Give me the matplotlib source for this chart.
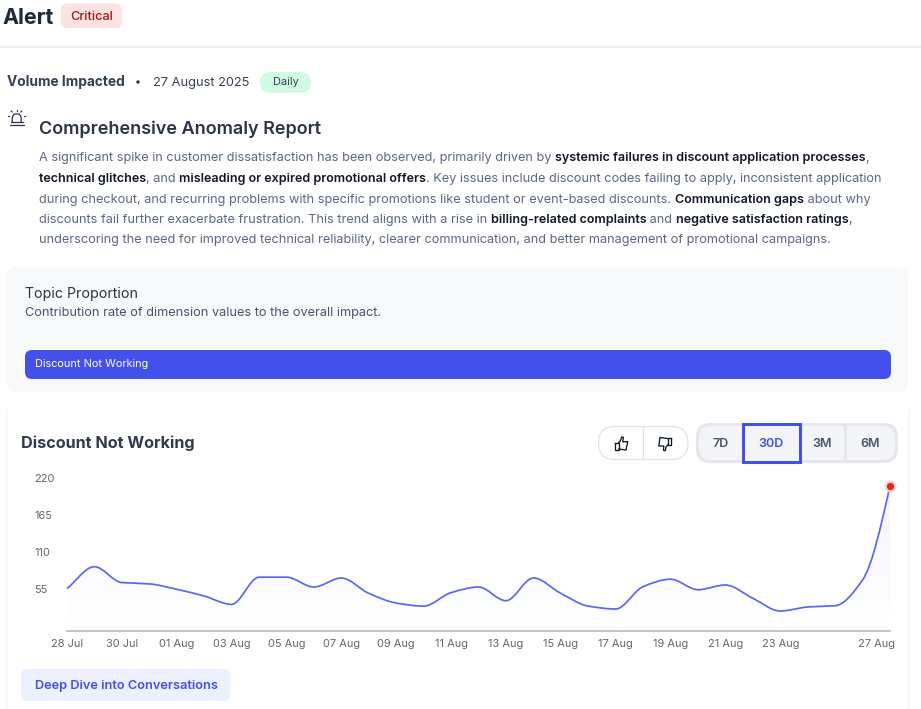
import numpy as np
import matplotlib
matplotlib.use("Agg")
import matplotlib.pyplot as plt
from matplotlib.patches import FancyBboxPatch, Rectangle, Circle, PathPatch
from matplotlib.path import Path
from matplotlib.transforms import ScaledTranslation

plt.rcParams['font.family'] = ['Inter', 'DejaVu Sans']

# ---------- data ----------
days = list(range(31))
volume = [63, 95.6, 72, 70, 62, 52, 39.6, 80, 80, 65.4, 78.8, 56, 41.6, 37, 57, 65.4,
          45, 78.8, 56, 37, 32.7, 66, 77, 61.4, 68.4, 48.6, 29.7, 35.7, 37.6, 75.8, 215.5]
x_tick_days = [0, 2, 4, 6, 8, 10, 12, 14, 16, 18, 20, 22, 24, 26, 30]
x_tick_labels = ['28 Jul', '30 Jul', '01 Aug', '03 Aug', '05 Aug', '07 Aug', '09 Aug', '11 Aug',
                 '13 Aug', '15 Aug', '17 Aug', '19 Aug', '21 Aug', '23 Aug', '27 Aug']
y_ticks = [55, 110, 165, 220]
paragraph = [
    [("A significant spike in customer dissatisfaction has been observed, primarily driven by ", 0),
     ("systemic failures in discount application processes", 1), (",", 0)],
    [("technical glitches", 1), (", and ", 0), ("misleading or expired promotional offers", 1),
     (". Key issues include discount codes failing to apply, inconsistent application", 0)],
    [("during checkout, and recurring problems with specific promotions like student or event-based discounts. ", 0),
     ("Communication gaps", 1), (" about why", 0)],
    [("discounts fail further exacerbate frustration. This trend aligns with a rise in ", 0),
     ("billing-related complaints", 1), (" and ", 0), ("negative satisfaction ratings", 1), (",", 0)],
    [("underscoring the need for improved technical reliability, clearer communication, and better management of promotional campaigns.", 0)],
]
range_labels = ['7D', '30D', '3M', '6M']

W, H = 921, 709
fig = plt.figure(figsize=(W / 100, H / 100), dpi=100, facecolor='white')
ui = fig.add_axes([0, 0, 1, 1], zorder=0)
ui.set_xlim(0, W)
ui.set_ylim(H, 0)
ui.axis('off')
PX = 0.72
INK = '#2b3444'
BLUE = '#4350ea'
renderer = fig.canvas.get_renderer()


def txt(x, y, s, px, color=INK, weight='normal', ha='left', va='center_baseline', **kw):
    return ui.text(x, y, s, fontsize=px * PX, color=color, fontweight=weight, ha=ha, va=va, **kw)


def box(x0, y0, x1, y1, r, fc, ec='none', lw=0, z=1):
    p = FancyBboxPatch((x0 + r, y0 + r), x1 - x0 - 2 * r, y1 - y0 - 2 * r,
                       boxstyle=f"round,pad={r},rounding_size={r}", fc=fc, ec=ec, lw=lw, zorder=z)
    ui.add_patch(p)
    return p


def strip(x, y, parts, sizes, colors, weights):
    for s, b in parts:
        t = txt(x, y, s, sizes[b], color=colors[b], weight=weights[b])
        t.set_text("x" + s + "x")
        w1 = t.get_window_extent(renderer).width
        t.set_text("xx")
        w0 = t.get_window_extent(renderer).width
        t.set_text(s)
        x += w1 - w0


# header
txt(2.5, 15.5, "Alert", 21.5, color='#1f2937', weight='bold')
box(61, 3.5, 122, 28, 6, '#fde2e2')
txt(91.5, 15.5, "Critical", 12.7, color='#991b1b', ha='center', weight='medium')
ui.add_patch(Rectangle((0, 46), W, 2, fc='#eceef0', ec='none'))

# sub header
txt(6.5, 80.5, "Volume Impacted", 13.75, color='#334155', weight='bold')
ui.add_patch(Circle((138, 82), 1.7, fc=INK, ec='none'))
txt(153, 81.5, "27 August 2025", 12.8, color='#374151')
box(260, 72, 311, 93, 10.5, '#d1fae5')
txt(285.5, 81, "Daily", 11, color='#374151', ha='center')

# alarm icon
a = dict(color=INK, lw=0.9, solid_capstyle='round')
ui.plot([12.2, 12.2, 13, 14.5, 19, 20.5, 21.2, 21.2], [122, 118, 115.5, 114, 114, 115.5, 118, 122], **a)
ui.plot([11, 22.5], [122, 122], **a)
ui.plot([9.5, 23.7], [124.8, 124.8], **a)
for (x0, y0, x1, y1) in [(16.5, 109.5, 16.5, 111), (11.2, 111, 12.2, 112), (21.8, 111, 20.8, 112),
                         (7.7, 115.5, 9.2, 115.5), (25.3, 115.5, 23.8, 115.5)]:
    ui.plot([x0, x1], [y0, y1], **a)

txt(39, 127.5, "Comprehensive Anomaly Report", 18.05, color=INK, weight='semibold')
ys = [157, 177.5, 198, 218.5, 239]
for y, parts in zip(ys, paragraph):
    strip(39, y, parts, {0: 12.75, 1: 12.58}, {0: '#5b6785', 1: '#111827'}, {0: 'normal', 1: 'semibold'})

# topic card
box(7, 267, 908, 392, 9, '#f8f9fb')
txt(25, 292.5, "Topic Proportion", 14.2, color=INK)
txt(25, 311.5, "Contribution rate of dimension values to the overall impact.", 12.77, color='#475569')
box(25, 350, 891, 379, 7, BLUE, z=2)
txt(35, 363, "Discount Not Working", 10.9, color='white', zorder=3)

# chart card edges
ui.add_patch(Rectangle((6, 410), 1.5, 299, fc='#f8f9fa', ec='none'))
ui.add_patch(Rectangle((908, 410), 1.5, 299, fc='#f6f7f8', ec='none'))
txt(21, 442, "Discount Not Working", 16.2, color='#2f3a4c', weight='bold')

# thumbs group
box(598.5, 426.5, 688, 459.5, 16.5, 'white', ec='#e2e3e6', lw=0.9)
ui.plot([643, 643], [427, 459], color='#e2e3e6', lw=0.9)
thumb = dict(color='#111827', lw=0.95, solid_joinstyle='round')
ui.plot([615.3, 615.3, 618.7, 618.7, 615.3], [442.5, 450, 450, 442.5, 442.5], **thumb)
ui.plot([618.7, 620.5, 621.7, 623.3, 622.8, 627.7, 626, 618.7],
        [442.5, 440.5, 437, 437.3, 441.7, 441.7, 450, 449], **thumb)
ui.plot([671, 671, 667.7, 667.7, 671], [437.5, 445, 445, 437.5, 437.5], **thumb)
ui.plot([667.7, 666, 665.3, 663.5, 663.8, 658.8, 660, 667.7],
        [445, 447, 450.7, 450.3, 446, 446, 437.5, 438.5], **thumb)

# range buttons
box(696, 423, 898, 463, 14, '#e5e7eb')
box(699, 426, 895, 460, 12, '#f4f5f9', z=2)
for xs in (800, 845):
    ui.add_patch(Rectangle((xs - 1, 426), 2.5, 34, fc='#e5e7eb', ec='none', zorder=3))
ui.add_patch(Rectangle((742.5, 424), 57, 38, fc='#f4f5f9', ec=BLUE, lw=2.2, zorder=4))
for lab, cx, col in zip(range_labels, [721, 771, 822, 870.5], ['#475569', BLUE, '#475569', '#475569']):
    txt(cx, 442.5, lab, 12.6, color=col, weight='semibold', ha='center', zorder=5)

# button
box(21, 669, 230, 701, 7, '#ebf1ff')
txt(35, 684.5, "Deep Dive into Conversations", 12.8, color=BLUE, weight='semibold')

# ---------- chart ----------
ax = fig.add_axes([67 / W, 1 - 631 / H, (890 - 67) / W, (631 - 483) / H], zorder=2)
ax.patch.set_alpha(0)
ax.set_xlim(0, 30)
ax.set_ylim(0, 220)
for s in ('top', 'left', 'right'):
    ax.spines[s].set_visible(False)
ax.spines['bottom'].set_color('#b4b4b4')
ax.spines['bottom'].set_linewidth(1.1)
ax.tick_params(length=0, labelcolor='#666666', labelsize=11 * PX)
ax.set_xticks(x_tick_days, x_tick_labels)
ax.set_yticks(y_ticks, [str(v) for v in y_ticks])
ax.tick_params(axis='y', pad=33 * PX)
ax.tick_params(axis='x', pad=8 * PX)
for l in ax.get_yticklabels():
    l.set_ha('left')
    l.set_transform(l.get_transform() + ScaledTranslation(0, 5 / 100, fig.dpi_scale_trans))
last = ax.get_xticklabels()[-1]
last.set_transform(last.get_transform() + ScaledTranslation(-14 / 100, 0, fig.dpi_scale_trans))

# monotone cubic curve through the data, as Bezier segments
x = np.array(days, float)
y = np.array(volume, float)
d = np.diff(y) / np.diff(x)
m = np.zeros_like(y)
for i in range(1, len(y) - 1):
    if d[i - 1] * d[i] > 0:
        m[i] = 2 * d[i - 1] * d[i] / (d[i - 1] + d[i])
        m[i] = np.sign(d[i]) * min(abs(m[i]), 1.5 * min(abs(d[i - 1]), abs(d[i])))
m[0], m[-1] = d[0], (3 * d[-1] - m[-2]) / 2
verts = [(x[0], y[0])]
codes = [Path.MOVETO]
for i in range(len(x) - 1):
    h = (x[i + 1] - x[i]) / 3
    verts += [(x[i] + h, y[i] + m[i] * h), (x[i + 1] - h, y[i + 1] - m[i + 1] * h), (x[i + 1], y[i + 1])]
    codes += [Path.CURVE4] * 3
line_path = Path(verts, codes)
area_path = Path(verts + [(x[-1], 0), (x[0], 0), (x[0], y[0])],
                 codes + [Path.LINETO, Path.LINETO, Path.LINETO])
clip = PathPatch(area_path, fc='none', ec='none', transform=ax.transData)
ax.add_patch(clip)
grad = np.zeros((256, 1, 4))
grad[..., :3] = matplotlib.colors.to_rgb('#4f5cf5')
grad[..., 3] = np.linspace(0.07, 0.0, 256)[:, None]
im = ax.imshow(grad, extent=[0, 30, 0, 220], origin='upper', aspect='auto', zorder=1)
im.set_clip_path(clip)
ax.set_xlim(0, 30)
ax.set_ylim(0, 220)
ax.add_patch(PathPatch(line_path, fc='none', ec='#5c67f0', lw=1.25, zorder=3, clip_on=False))
ax.scatter(days[-1:], volume[-1:], s=75, color='#fbd5d5', zorder=4, clip_on=False, linewidths=0)
ax.scatter(days[-1:], volume[-1:], s=28, color='#e12a1f', zorder=5, clip_on=False, linewidths=0)

fig.savefig('out.png', dpi=100, facecolor='white')
